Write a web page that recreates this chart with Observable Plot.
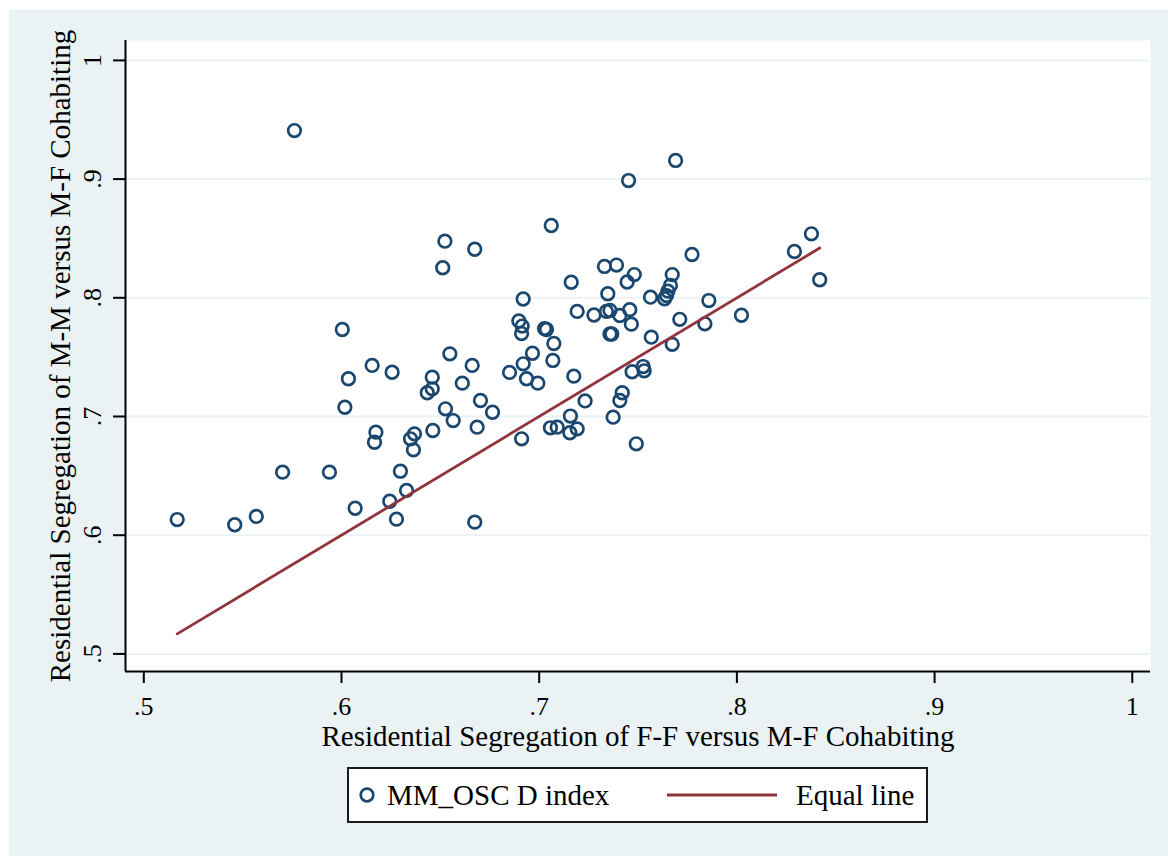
<!DOCTYPE html>
<html>
<head>
<meta charset="utf-8">
<script src="https://cdn.jsdelivr.net/npm/d3@7"></script>
<script src="https://cdn.jsdelivr.net/npm/@observablehq/plot@0.6"></script>
<style>
  html, body { margin: 0; padding: 0; background: white; }
  #wrap { position: relative; width: 1168px; height: 856px; background: white; overflow: hidden; font-family: "Liberation Serif", "Times New Roman", serif; }
  #bg { position: absolute; left: 9px; top: 10px; width: 1159px; height: 846px; background: #eaf2f3; }
  #chart { position: absolute; left: 0; top: 0; }
  #legend { position: absolute; left: 347px; top: 767px; width: 581px; height: 56px; box-sizing: border-box;
            border: 2px solid #1a1a1a; background: white; font-size: 29px; color: black; }
  #legend .item { position: absolute; top: 0; height: 52px; display: flex; align-items: center; }
  #legend svg { display: block; }
</style>
</head>
<body>
<div id="wrap">
  <div id="bg"></div>
  <div id="chart"></div>
  <div id="legend"></div>
</div>
<script>
// ---- Data ----
const ffVsMf = [0.5169,0.5460,0.5569,0.5702,0.5762,0.5939,0.6004,0.6017,0.6035,0.6069,
  0.6155,0.6174,0.6167,0.6256,0.6244,0.6278,0.6298,0.6329,0.6349,0.6369,
  0.6364,0.6434,0.6459,0.6459,0.6462,0.6512,0.6523,0.6526,0.6548,0.6565,
  0.6611,0.6661,0.6674,0.6686,0.6674,0.6703,0.6764,0.6850,0.6897,0.6914,
  0.6911,0.6919,0.6919,0.6936,0.6911,0.6966,0.6993,0.7027,0.7037,0.7061,
  0.7074,0.7069,0.7057,0.7091,0.7155,0.7158,0.7162,0.7175,0.7192,0.7192,
  0.7232,0.7277,0.7330,0.7340,0.7347,0.7358,0.7358,0.7367,0.7374,0.7391,
  0.7408,0.7408,0.7420,0.7445,0.7452,0.7458,0.7466,0.7470,0.7481,0.7491,
  0.7526,0.7531,0.7563,0.7567,0.7634,0.7644,0.7651,0.7664,0.7673,0.7673,
  0.7690,0.7711,0.7773,0.7838,0.7858,0.8023,0.8291,0.8377,0.8419];
const mmVsMf = [0.6132,0.6088,0.6158,0.6531,0.9409,0.6531,0.7733,0.7078,0.7318,0.6227,
  0.7430,0.6868,0.6783,0.7373,0.6286,0.6135,0.6539,0.6377,0.6812,0.6854,
  0.6719,0.7200,0.7233,0.7331,0.6882,0.8253,0.8477,0.7065,0.7528,0.6966,
  0.7281,0.7430,0.8409,0.6910,0.6110,0.7135,0.7036,0.7371,0.7805,0.7762,
  0.7699,0.7990,0.7444,0.7318,0.6812,0.7533,0.7281,0.7741,0.7733,0.8609,
  0.7615,0.7472,0.6905,0.6910,0.6863,0.7004,0.8131,0.7340,0.7885,0.6896,
  0.7131,0.7855,0.8264,0.7885,0.8034,0.7893,0.7695,0.7695,0.6994,0.8276,
  0.7851,0.7135,0.7200,0.8133,0.8988,0.7900,0.7778,0.7377,0.8196,0.6770,
  0.7421,0.7385,0.8005,0.7668,0.7992,0.8019,0.8056,0.8104,0.8196,0.7608,
  0.9157,0.7819,0.8365,0.7781,0.7977,0.7853,0.8390,0.8539,0.8152];
const equalLineX = [0.5169, 0.8419];
const equalLineY = [0.5169, 0.8419];
const xTicks = [0.5, 0.6, 0.7, 0.8, 0.9, 1];
const yTicks = [0.5, 0.6, 0.7, 0.8, 0.9, 1];
const xTitle = "Residential Segregation of F-F versus M-F Cohabiting";
const yTitle = "Residential Segregation of M-M versus M-F Cohabiting";
const legendLabels = ["MM_OSC D index", "Equal line"];

// ---- Styles ----
const navy = "#1a476f";
const maroon = "#90353b";
const gridColor = "#eaf2f3";
const fmt = d => d === 1 ? "1" : String(d).replace(/^0/, "");

const points = ffVsMf.map((x, i) => ({x, y: mmVsMf[i]}));
const line = equalLineX.map((x, i) => ({x, y: equalLineY[i]}));

const chart = Plot.plot({
  width: 1168,
  height: 760,
  marginLeft: 125,
  marginRight: 18,
  marginTop: 40,
  marginBottom: 89,
  x: {domain: [0.49074, 1.00921]},
  y: {domain: [0.48517, 1.01677]},
  style: {background: "transparent", fontFamily: "Liberation Serif, Times New Roman, serif", fontSize: "26px", color: "black"},
  marks: [
    Plot.frame({fill: "white"}),
    Plot.gridY(yTicks, {stroke: gridColor, strokeOpacity: 1, strokeWidth: 2}),
    Plot.dot(points, {x: "x", y: "y", r: 6.3, stroke: navy, strokeWidth: 2.7, fill: "none"}),
    Plot.line(line, {x: "x", y: "y", stroke: maroon, strokeWidth: 2.8}),
    Plot.ruleX([0.49074], {stroke: "black", strokeWidth: 2}),
    Plot.ruleY([0.48517], {stroke: "black", strokeWidth: 2}),
    Plot.axisX({ticks: xTicks, tickFormat: fmt, tickSize: 12, tickPadding: 13, strokeWidth: 2, fontSize: 26, label: null}),
    Plot.axisY({ticks: yTicks, tickFormat: fmt, tickSize: 12, tickPadding: 13, tickRotate: -90, strokeWidth: 2, fontSize: 26, label: null}),
    Plot.text([xTitle], {text: d => d, frameAnchor: "bottom", dy: 74, lineAnchor: "bottom", textAnchor: "middle", fontSize: 29}),
    Plot.text([yTitle], {text: d => d, frameAnchor: "left", dx: -56, rotate: -90, lineAnchor: "bottom", textAnchor: "middle", fontSize: 29})
  ]
});
document.getElementById("chart").appendChild(chart);

// ---- Legend ----
const legend = document.getElementById("legend");
legend.innerHTML = `
  <div class="item" style="left:8px;">
    <svg width="20" height="20"><circle cx="10" cy="10" r="6.3" fill="none" stroke="${navy}" stroke-width="2.7"/></svg>
    <span style="margin-left:10px;">${legendLabels[0]}</span>
  </div>
  <div class="item" style="left:317px;">
    <svg width="112" height="10"><line x1="1" y1="5" x2="111" y2="5" stroke="${maroon}" stroke-width="3"/></svg>
    <span style="margin-left:18px;">${legendLabels[1]}</span>
  </div>`;
</script>
</body>
</html>
